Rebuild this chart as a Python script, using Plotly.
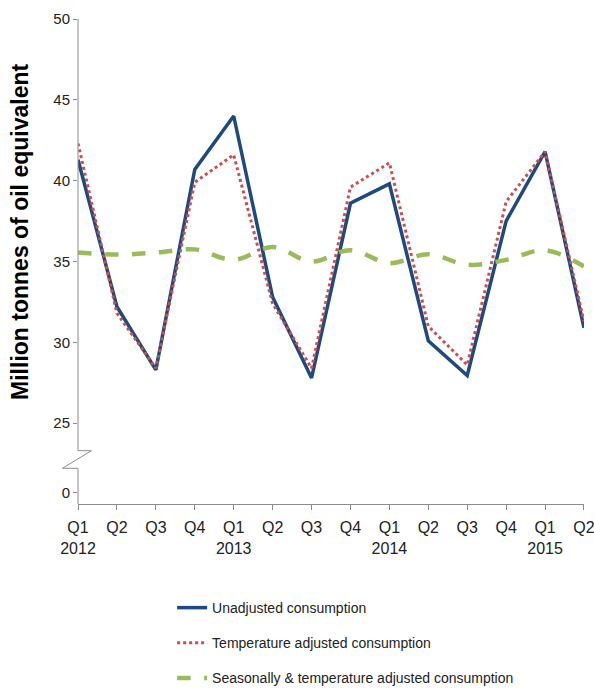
import plotly.graph_objects as go

quarters = ["Q1<br>2012", "Q2", "Q3", "Q4", "Q1<br>2013", "Q2", "Q3", "Q4",
            "Q1<br>2014", "Q2", "Q3", "Q4", "Q1<br>2015", "Q2"]
x_pos = list(range(len(quarters)))

unadjusted = [41.3, 32.2, 28.3, 40.7, 44.0, 32.8, 27.8, 38.6, 39.8, 30.1, 27.95, 37.5, 41.8, 30.9]
temp_adjusted = [42.3, 31.8, 28.4, 39.9, 41.6, 32.4, 28.4, 39.6, 41.1, 31.0, 28.6, 38.7, 41.8, 31.3]
seas_temp_adjusted = [35.55, 35.43, 35.55, 35.75, 35.1, 35.9, 35.0, 35.7, 34.9, 35.45, 34.8, 35.1, 35.7, 34.7]

y_tickvals = [20.7, 25, 30, 35, 40, 45, 50]
y_ticktext = ["0", "25", "30", "35", "40", "45", "50"]

names = ["Unadjusted consumption", "Temperature adjusted consumption",
         "Seasonally & temperature adjusted consumption"]

FONT = "Liberation Sans, Arial, sans-serif"
AXIS_COL = "#8c8c8c"

fig = go.Figure()
fig.add_trace(go.Scatter(x=x_pos, y=unadjusted, mode="lines", name=names[0],
                         legendgroup="a",
                         line=dict(color="#1f4a80", width=3.5)))
fig.add_trace(go.Scatter(x=x_pos, y=temp_adjusted, mode="lines", name=names[1],
                         legendgroup="b",
                         line=dict(color="#cd4f4c", width=3, dash="dot")))
fig.add_trace(go.Scatter(x=x_pos, y=seas_temp_adjusted, mode="lines", name=names[2],
                         legendgroup="c",
                         line=dict(color="#9bbb59", width=4.5, dash="dash", shape="spline")))

fig.update_xaxes(range=[-0.0005, 13.0005], tickmode="array", tickvals=x_pos, ticktext=quarters,
                 showline=True, linecolor=AXIS_COL, linewidth=1,
                 ticks="outside", ticklen=5, tickcolor=AXIS_COL, ticklabelstandoff=4,
                 ticklabeloverflow="allow",
                 showgrid=False, zeroline=False, automargin=False,
                 tickfont=dict(family=FONT, size=16, color="#222"))
fig.update_yaxes(range=[20, 50], tickmode="array", tickvals=y_tickvals, ticktext=y_ticktext,
                 showline=False, ticks="outside", ticklen=4, tickcolor=AXIS_COL,
                 ticklabeloverflow="allow",
                 showgrid=False, zeroline=False, automargin=False,
                 tickfont=dict(family=FONT, size=15, color="#222"))

# y axis line with a break (paper coords)
y_hi, y_lo = 0.1099, 0.0736
line_style = dict(color=AXIS_COL, width=1)
fig.add_shape(type="line", xref="paper", yref="paper", x0=0, x1=0, y0=y_hi, y1=1, line=line_style)
fig.add_shape(type="line", xref="paper", yref="paper", x0=0, x1=0, y0=0, y1=y_lo, line=line_style)
fig.add_shape(type="path", xref="paper", yref="paper",
              path=f"M 0,{y_hi} L 0.0265,{y_hi} L -0.0308,{y_lo} L 0,{y_lo}",
              line=line_style)

fig.add_annotation(text="<b>Million tonnes of oil equivalent</b>", textangle=-90,
                   xref="paper", yref="paper", x=-0.1146, y=0.561,
                   showarrow=False, xanchor="center", yanchor="middle",
                   font=dict(family=FONT, size=23, color="#000"))

fig.update_layout(
    width=594, height=694,
    margin=dict(l=78, r=10, t=19, b=190, autoexpand=False),
    paper_bgcolor="white", plot_bgcolor="white",
    showlegend=True,
    legend=dict(x=0.186, y=-0.1815, xanchor="left", yanchor="top",
                font=dict(family=FONT, size=14, color="#222"),
                tracegroupgap=14, bgcolor="rgba(0,0,0,0)"),
)

fig.write_html("out.html", config={"displayModeBar": False},
               post_script="document.body.style.margin='0';document.body.style.overflow='hidden';")
